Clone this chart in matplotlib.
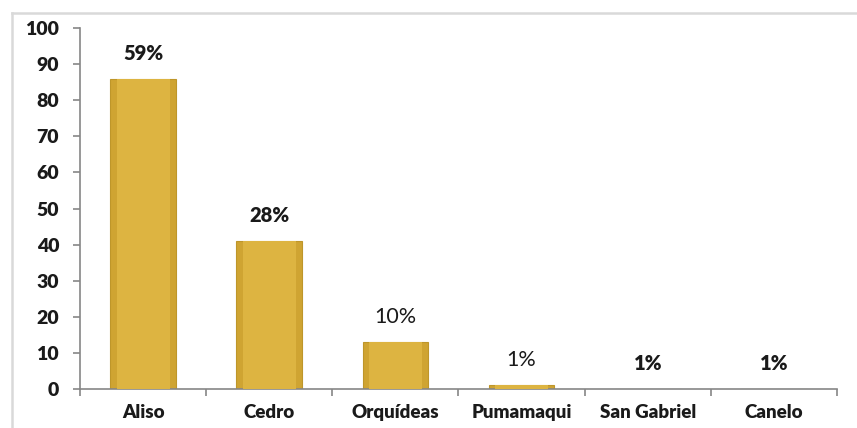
import matplotlib
matplotlib.use('Agg')
import matplotlib.pyplot as plt
from matplotlib.lines import Line2D
import numpy as np

# data
categories = ['Aliso', 'Cedro', 'Orquídeas', 'Pumamaqui', 'San Gabriel', 'Canelo']
values = [86, 41, 13, 1, 0, 0]
pct_labels = ['59%', '28%', '10%', '1%', '1%', '1%']
pct_bold = [True, True, False, False, True, True]
y_ticks = [0, 10, 20, 30, 40, 50, 60, 70, 80, 90, 100]

plt.rcParams['font.family'] = ['Lato', 'DejaVu Sans']

fig = plt.figure(figsize=(8.57, 4.28), dpi=100)
ax = fig.add_axes([80 / 857, 39 / 428, 757 / 857, 361 / 428])

x = np.arange(len(categories))
# outer bar (darker rim) and inner face for a slight bevel look
ax.bar(x, values, width=0.52, color='#CFA432', edgecolor='#BE962A', linewidth=0.8, zorder=2)
ax.bar(x, values, width=0.42, color='#DDB441', linewidth=0, zorder=3)

for xi, v, lab, b in zip(x, values, pct_labels, pct_bold):
    ax.annotate(lab, (xi, v), xytext=(0, 18), textcoords='offset points',
                ha='center', va='center', fontsize=14.5 if b else 15.5,
                fontweight='heavy' if b else 'normal', color='#1a1a1a')

ax.set_xlim(-0.5, len(categories) - 0.5)
ax.set_ylim(0, 100)
ax.set_yticks(y_ticks)
ax.set_xticks(x)
ax.set_xticklabels(categories, fontweight='heavy', fontsize=13.5, color='#1a1a1a')
ax.set_xticks(np.arange(-0.5, len(categories)), minor=True)
ax.tick_params(axis='x', which='major', length=0, pad=11)
ax.tick_params(axis='x', which='minor', length=5, direction='out', color='#868686', width=1.2)
ax.tick_params(axis='y', length=5, direction='out', color='#868686', width=1.2,
               labelsize=14, labelcolor='#1a1a1a', pad=10)
for t in ax.get_yticklabels():
    t.set_fontweight('heavy')

for s in ['top', 'right']:
    ax.spines[s].set_visible(False)
for s in ['left', 'bottom']:
    ax.spines[s].set_color('#868686')
    ax.spines[s].set_linewidth(1.2)

# gray border of the chart area (only top and left are in the crop)
fig.add_artist(Line2D([12 / 857, 1], [1 - 13 / 428] * 2, color='#D9D9D9', lw=1.8))
fig.add_artist(Line2D([12 / 857] * 2, [0, 1 - 13 / 428], color='#D9D9D9', lw=1.8))

fig.savefig('out.png', dpi=100)
